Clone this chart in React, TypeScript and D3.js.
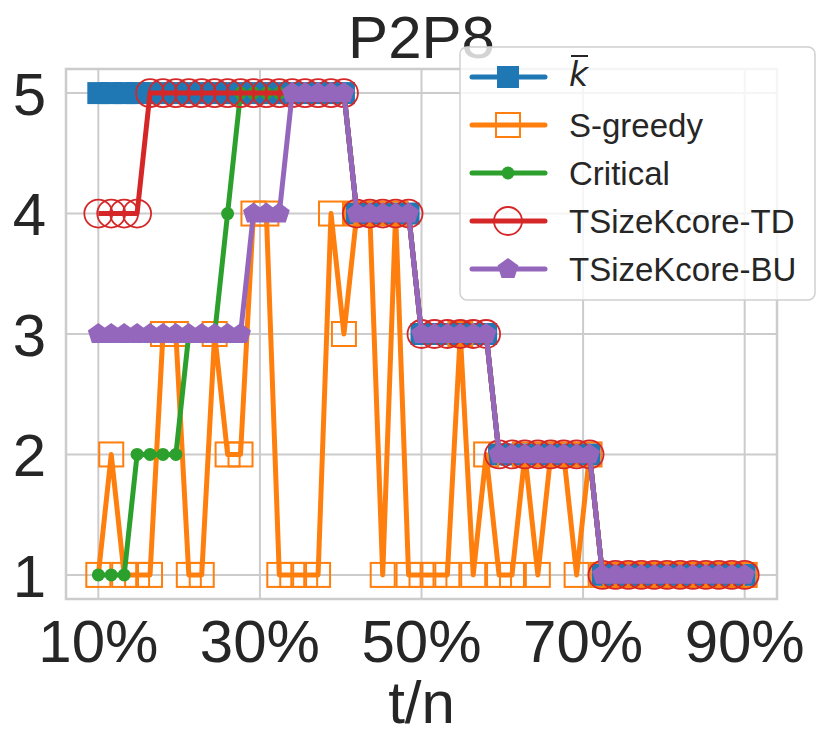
import * as d3 from "d3"

// t/n values (percent)
const tn = [
  10, 11.6, 13.2, 14.8, 16.4, 18, 19.6, 21.2, 22.8, 24.4, 26, 27.6, 29.2, 30.8, 32.4, 34, 35.6,
  37.2, 38.8, 40.4, 42, 43.6, 45.2, 46.8, 48.4, 50, 51.6, 53.2, 54.8, 56.4, 58, 59.6, 61.2, 62.8,
  64.4, 66, 67.6, 69.2, 70.8, 72.4, 74, 75.6, 77.2, 78.8, 80.4, 82, 83.6, 85.2, 86.8, 88.4, 90,
]

const kbar = [
  5, 5, 5, 5, 5, 5, 5, 5, 5, 5, 5, 5, 5, 5, 5, 5, 5, 5, 5, 5, 4, 4, 4, 4, 4, 3, 3, 3, 3, 3, 3, 2, 2,
  2, 2, 2, 2, 2, 2, 1, 1, 1, 1, 1, 1, 1, 1, 1, 1, 1, 1,
]
const sGreedy = [
  1, 2, 1, 1, 1, 3, 3, 1, 1, 3, 2, 2, 4, 4, 1, 1, 1, 1, 4, 3, 4, 4, 1, 4, 1, 1, 1, 1, 3, 1, 2, 1, 1,
  2, 1, 2, 2, 1, 2, 1, 1, 1, 1, 1, 1, 1, 1, 1, 1, 1, 1,
]
const critical = [
  1, 1, 1, 2, 2, 2, 2, 3, 3, 3, 4, 5, 5, 5, 5, 5, 5, 5, 5, 5, 4, 4, 4, 4, 4, 3, 3, 3, 3, 3, 3, 2, 2,
  2, 2, 2, 2, 2, 2, 1, 1, 1, 1, 1, 1, 1, 1, 1, 1, 1, 1,
]
const tsizeTD = [
  4, 4, 4, 4, 5, 5, 5, 5, 5, 5, 5, 5, 5, 5, 5, 5, 5, 5, 5, 5, 4, 4, 4, 4, 4, 3, 3, 3, 3, 3, 3, 2, 2,
  2, 2, 2, 2, 2, 2, 1, 1, 1, 1, 1, 1, 1, 1, 1, 1, 1, 1,
]
const tsizeBU = [
  3, 3, 3, 3, 3, 3, 3, 3, 3, 3, 3, 3, 4, 4, 4, 5, 5, 5, 5, 5, 4, 4, 4, 4, 4, 3, 3, 3, 3, 3, 3, 2, 2,
  2, 2, 2, 2, 2, 2, 1, 1, 1, 1, 1, 1, 1, 1, 1, 1, 1, 1,
]

const xTicks = [10, 30, 50, 70, 90]
const yTicks = [1, 2, 3, 4, 5]

type Marker = "square" | "openSquare" | "dot" | "openCircle" | "pentagon"

const series: { name: string; values: number[]; color: string; marker: Marker }[] = [
  { name: "kbar", values: kbar, color: "#1f77b4", marker: "square" },
  { name: "S-greedy", values: sGreedy, color: "#ff7f0e", marker: "openSquare" },
  { name: "Critical", values: critical, color: "#2ca02c", marker: "dot" },
  { name: "TSizeKcore-TD", values: tsizeTD, color: "#d62728", marker: "openCircle" },
  { name: "TSizeKcore-BU", values: tsizeBU, color: "#9467bd", marker: "pentagon" },
]

const FONT = "'Liberation Sans', Arial, sans-serif"
const TEXT = "#262626"
const GRID = "#cccccc"

const pentagon = (r: number) =>
  d3.range(5)
    .map(k => {
      const a = -Math.PI / 2 + (k * 2 * Math.PI) / 5
      return `${r * Math.cos(a)},${r * Math.sin(a)}`
    })
    .join(" ")

const MarkerShape = ({ type, color, x, y }: { type: Marker; color: string; x: number; y: number }) => {
  switch (type) {
    case "square":
      return <rect x={x - 11} y={y - 11} width={22} height={22} fill={color} />
    case "openSquare":
      return <rect x={x - 12} y={y - 12} width={24} height={24} fill="none" stroke={color} strokeWidth={2} />
    case "dot":
      return <circle cx={x} cy={y} r={6.5} fill={color} />
    case "openCircle":
      return <circle cx={x} cy={y} r={14} fill="none" stroke={color} strokeWidth={1.8} />
    case "pentagon":
      return <polygon transform={`translate(${x},${y})`} points={pentagon(11)} fill={color} />
  }
}

export default function App() {
  const width = 830
  const height = 750
  const plot = { left: 66, right: 777, top: 69, bottom: 599 }

  const x = d3.scaleLinear().domain([6, 94]).range([plot.left, plot.right])
  const y = d3.scaleLinear().domain([0.8, 5.2]).range([plot.bottom, plot.top])

  const line = d3
    .line<number>()
    .x((_, i) => x(tn[i]))
    .y(d => y(d))

  const legendY = [77, 125, 173, 221, 269]

  return (
    <svg
      width={width}
      height={height}
      style={{ position: "absolute", left: 0, top: 0, background: "#fff" }}
      fontFamily={FONT}
    >
      <defs>
        <clipPath id="plot-clip">
          <rect x={plot.left} y={plot.top} width={plot.right - plot.left} height={plot.bottom - plot.top} />
        </clipPath>
      </defs>

      {/* grid */}
      {xTicks.map(t => (
        <line key={`gx${t}`} x1={x(t)} x2={x(t)} y1={plot.top} y2={plot.bottom} stroke={GRID} strokeWidth={2} />
      ))}
      {yTicks.map(t => (
        <line key={`gy${t}`} x1={plot.left} x2={plot.right} y1={y(t)} y2={y(t)} stroke={GRID} strokeWidth={2} />
      ))}
      <rect
        x={plot.left}
        y={plot.top}
        width={plot.right - plot.left}
        height={plot.bottom - plot.top}
        fill="none"
        stroke={GRID}
        strokeWidth={2.5}
      />

      {/* series */}
      {series.map(s => (
        <g key={s.name}>
          <path
            d={line(s.values) ?? ""}
            fill="none"
            stroke={s.color}
            strokeWidth={5}
            strokeLinejoin="round"
            clipPath="url(#plot-clip)"
          />
          {s.values.map((v, i) => (
            <MarkerShape key={i} type={s.marker} color={s.color} x={x(tn[i])} y={y(v)} />
          ))}
        </g>
      ))}

      {/* tick labels */}
      {xTicks.map(t => (
        <text key={`tx${t}`} x={x(t)} y={662} textAnchor="middle" fontSize={60} fill={TEXT}>
          {`${t}%`}
        </text>
      ))}
      {yTicks.map(t => (
        <text key={`ty${t}`} x={46} y={y(t)} dy="0.36em" textAnchor="end" fontSize={60} fill={TEXT}>
          {t}
        </text>
      ))}

      <text x={(plot.left + plot.right) / 2} y={723} textAnchor="middle" fontSize={60} fill={TEXT}>
        t/n
      </text>
      <text x={(plot.left + plot.right) / 2} y={58} textAnchor="middle" fontSize={60} fill={TEXT}>
        P2P8
      </text>

      {/* legend */}
      <g>
        <rect x={460} y={47} width={355} height={253} rx={7} fill="#fff" fillOpacity={0.8} stroke="#d0d0d0" strokeWidth={1.5} />
        {series.map((s, i) => (
          <g key={s.name}>
            <line x1={472} x2={545} y1={legendY[i]} y2={legendY[i]} stroke={s.color} strokeWidth={5} strokeLinecap="round" />
            <MarkerShape type={s.marker} color={s.color} x={508} y={legendY[i]} />
            {s.name === "kbar" ? (
              <g>
                <text x={569} y={legendY[i] + 9} fontSize={33} fontStyle="italic" fontFamily="'DejaVu Sans', sans-serif" fill={TEXT}>
                  k
                </text>
                <line x1={571} x2={588} y1={56} y2={56} stroke={TEXT} strokeWidth={2} />
              </g>
            ) : (
              <text x={569} y={legendY[i] + 12} fontSize={33} fill={TEXT}>
                {s.name}
              </text>
            )}
          </g>
        ))}
      </g>
    </svg>
  )
}
